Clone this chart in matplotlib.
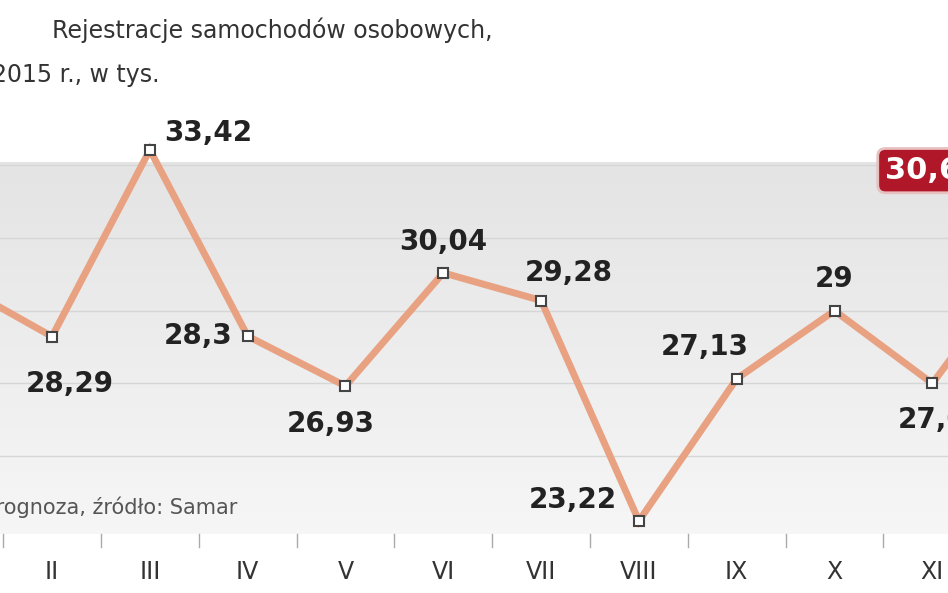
import numpy as np
import matplotlib.pyplot as plt

# Rejestracje samochodów osobowych, 2015 r., w tys.
months = ["I", "II", "III", "IV", "V", "VI", "VII", "VIII", "IX", "X", "XI", "XII"]
values = [29.8, 28.29, 33.42, 28.3, 26.93, 30.04, 29.28, 23.22, 27.13, 29.0, 27.0, 30.6]
labels = ["29,8", "28,29", "33,42", "28,3", "26,93", "30,04", "29,28", "23,22",
          "27,13", "29", "27,0", "30,6"]
# label offsets in pixels (dx, dy)
offsets = [(16, 22), (18, -47), (58, 17), (-50, 0), (-15, -38), (0, 31), (28, 28),
           (-66, 21), (-32, 32), (0, 32), (0, -37), (0, 0)]

fig = plt.figure(figsize=(9.48, 5.93), dpi=100)
ax = fig.add_axes([0, 0, 1, 1])
x = np.arange(len(months))
ax.set_xlim(0.468, 10.16)
ax.set_ylim(21.24, 37.54)
ax.axis("off")

# gray gradient background
grad = np.linspace(0, 1, 100).reshape(-1, 1)
ax.imshow(grad, extent=(0.468, 10.16, 22.85, 33.05), aspect="auto",
          cmap=plt.matplotlib.colors.LinearSegmentedColormap.from_list("g", ["#f6f6f6", "#e4e4e4"]),
          origin="lower", zorder=0)
for g in [25, 27, 29, 31, 33]:
    ax.axhline(g, color="#d6d6d6", lw=1, zorder=1)
for i in x[:-1]:
    ax.plot([i + 0.5, i + 0.5], [22.85, 22.5], color="#aaaaaa", lw=1, zorder=1)

ax.plot(x, values, color="#e8a282", lw=5, zorder=2, solid_joinstyle="miter")
ax.plot(x, values, ls="none", marker="s", ms=7, mfc="white", mec="#444444", mew=1.5, zorder=3)

for i in range(len(months) - 1):
    dx, dy = offsets[i]
    ax.annotate(labels[i], (x[i], values[i]), xytext=(dx, dy), textcoords="offset pixels",
                ha="center", va="center", fontsize=20, fontweight="bold",
                family="DejaVu Sans", color="#222222", zorder=4)
for i, m in enumerate(months):
    ax.text(x[i], 21.82, m, ha="center", va="center", fontsize=17,
            family="DejaVu Sans", color="#333333")

# red box with last value
ax.text(9.52, 32.85, labels[-1], ha="left", va="center", fontsize=22, fontweight="bold",
        family="DejaVu Sans", color="white", zorder=5,
        bbox=dict(boxstyle="round,pad=0.25", fc="#b0182a", ec="#e8c0c0", lw=2))

fig.text(492 / 948, 1 - 30 / 593, "Rejestracje samochodów osobowych,", ha="right", va="center",
         fontsize=17, color="#333333")
fig.text(160 / 948, 1 - 75 / 593, "2015 r., w tys.", ha="right", va="center",
         fontsize=17, color="#333333")
fig.text(237 / 948, 1 - 507 / 593, "*prognoza, źródło: Samar", ha="right", va="center",
         fontsize=15, color="#555555")

fig.savefig("out.png", dpi=100)
